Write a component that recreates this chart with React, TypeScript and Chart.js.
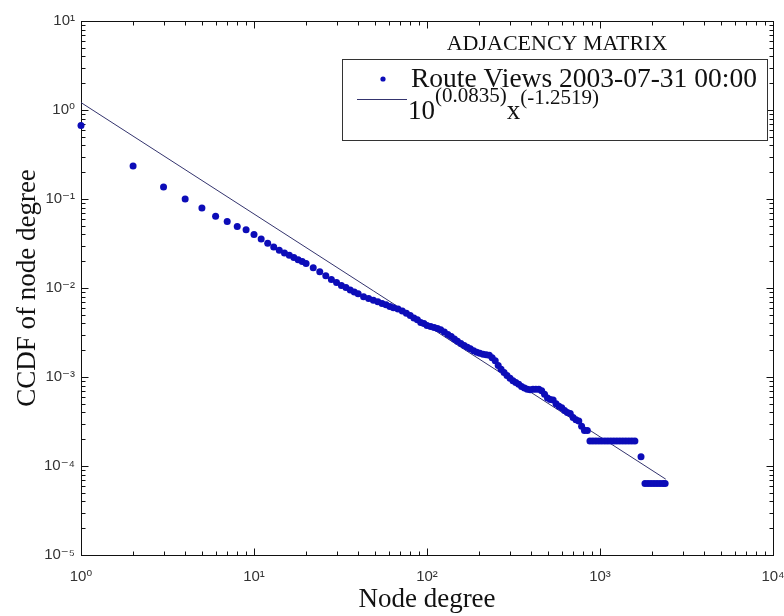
import React, { useEffect, useRef } from 'react';
import { Chart, registerables } from 'chart.js';

Chart.register(...registerables);

// ---- data ----
const degree = [
  1, 2, 3, 4, 5, 6, 7, 8, 9, 10,
  11, 12, 13, 14, 15, 16, 17, 18, 19, 20,
  22, 24, 26, 28, 30, 32, 34, 36, 38, 40,
  43, 46, 49, 52, 55, 58, 61, 64, 68, 72,
  76, 80, 84, 88, 92, 96, 100, 105, 110, 115,
  120, 126, 132, 138, 144, 150, 157, 164, 171, 178,
  186, 194, 202, 211, 220, 229, 238, 248, 258, 268,
  279, 290, 302, 314, 326, 339, 352, 366, 380, 395,
  410, 426, 443, 460, 478, 497, 516, 536, 557, 579,
  601, 624, 648, 673, 699, 726, 754, 783, 813, 845,
  875, 910, 947, 986, 1026, 1068, 1111, 1156, 1203, 1252,
  1303, 1356, 1411, 1469, 1529, 1591,
  1726,
  1820, 1894, 1971, 2051, 2135, 2222, 2312, 2380,
];

const ccdf = [
  0.67, 0.235, 0.136, 0.1, 0.079, 0.064, 0.056, 0.049, 0.045, 0.04,
  0.0355, 0.0318, 0.0288, 0.0265, 0.0248, 0.0233, 0.022, 0.0208, 0.0198, 0.0188,
  0.0169, 0.0152, 0.0137, 0.0125, 0.0115, 0.0107, 0.0101, 0.0095, 0.009, 0.0086,
  0.008, 0.0076, 0.0073, 0.007, 0.0067, 0.0065, 0.0062, 0.006, 0.0058, 0.0055,
  0.0052, 0.0049, 0.0046, 0.0044, 0.0041, 0.004, 0.0038, 0.0037, 0.0036, 0.0035,
  0.0034, 0.0032, 0.003, 0.00285, 0.00268, 0.00252, 0.00238, 0.00226, 0.00216, 0.00208,
  0.00197, 0.0019, 0.00185, 0.0018, 0.00178, 0.00175, 0.00165, 0.00152, 0.00135, 0.00122,
  0.00112, 0.00104, 0.00097, 0.00091, 0.00087, 0.00083, 0.00078, 0.00075, 0.00073, 0.00072,
  0.00073, 0.00073, 0.00073, 0.0007, 0.00064, 0.00058, 0.00056, 0.00055, 0.0005, 0.00047,
  0.00045, 0.00042, 0.0004, 0.00039, 0.00035, 0.00033, 0.00032, 0.00028, 0.00025, 0.00025,
  0.000191, 0.000191, 0.000191, 0.000191, 0.000191, 0.000191, 0.000191, 0.000191, 0.000191, 0.000191,
  0.000191, 0.000191, 0.000191, 0.000191, 0.000191, 0.000191,
  0.000127,
  0.0000637, 0.0000637, 0.0000637, 0.0000637, 0.0000637, 0.0000637, 0.0000637, 0.0000637,
];

// fitted power law end points: 10^(0.0835) x^(-1.2519)
const fitDegree = [1, 2400];
const fitCcdf = [1.212, 0.0000711];

const xTickValues = [1, 10, 100, 1000, 10000];
const xTickLabels = ['10⁰', '10¹', '10²', '10³', '10⁴'];
const yTickValues = [0.00001, 0.0001, 0.001, 0.01, 0.1, 1, 10];
const yTickLabels = ['10⁻⁵', '10⁻⁴', '10⁻³', '10⁻²', '10⁻¹', '10⁰', '10¹'];

const xTitle = 'Node degree';
const yTitle = 'CCDF of node degree';
const legendTitle = 'ADJACENCY MATRIX';
const seriesLabel = 'Route Views 2003-07-31 00:00';
const fitBase = '10';
const fitExpA = '(0.0835)';
const fitVar = 'x';
const fitExpB = '(-1.2519)';

const POINT_COLOR = '#0c0cb8';
const LINE_COLOR = '#34346e';
const SERIF = '"Liberation Serif", "Times New Roman", serif';
const SANS = '"Liberation Sans", Arial, "DejaVu Sans", sans-serif';

const framePlugin = {
  id: 'matlabFrame',
  beforeDatasetsDraw(chart: any) {
    const { ctx, chartArea: a, scales } = chart;
    const x = scales.x;
    const y = scales.y;
    const L = Math.round(a.left) + 0.5;
    const R = Math.round(a.right) + 0.5;
    const T = Math.round(a.top) + 0.5;
    const B = Math.round(a.bottom) + 0.5;
    ctx.save();
    ctx.fillStyle = '#ffffff';
    ctx.fillRect(a.left, a.top, a.right - a.left, a.bottom - a.top);
    ctx.strokeStyle = '#111111';
    ctx.lineWidth = 1;
    ctx.strokeRect(L, T, R - L, B - T);
    ctx.beginPath();
    for (let d = 0; d < 4; d++) {
      for (let m = 1; m <= 9; m++) {
        const v = m * Math.pow(10, d);
        const px = Math.round(x.getPixelForValue(v)) + 0.5;
        const len = m === 1 ? 7 : 4;
        ctx.moveTo(px, B);
        ctx.lineTo(px, B - len);
        ctx.moveTo(px, T);
        ctx.lineTo(px, T + len);
      }
    }
    for (let d = -5; d < 1; d++) {
      for (let m = 1; m <= 9; m++) {
        const v = m * Math.pow(10, d);
        const py = Math.round(y.getPixelForValue(v)) + 0.5;
        const len = m === 1 ? 7 : 4;
        ctx.moveTo(L, py);
        ctx.lineTo(L + len, py);
        ctx.moveTo(R, py);
        ctx.lineTo(R - len, py);
      }
    }
    ctx.stroke();
    ctx.restore();
  },
};

const legendPlugin = {
  id: 'matlabLegend',
  afterDraw(chart: any) {
    const ctx = chart.ctx;
    ctx.save();
    ctx.textBaseline = 'alphabetic';
    ctx.textAlign = 'center';
    ctx.fillStyle = '#111111';
    ctx.font = `22px ${SERIF}`;
    ctx.fillText(legendTitle, 557, 50);

    ctx.fillStyle = '#ffffff';
    ctx.fillRect(343, 60, 424, 80);
    ctx.strokeStyle = '#333333';
    ctx.lineWidth = 1;
    ctx.strokeRect(342.5, 59.5, 425, 81);

    ctx.fillStyle = POINT_COLOR;
    ctx.beginPath();
    ctx.arc(383, 79, 2.6, 0, Math.PI * 2);
    ctx.fill();

    ctx.textAlign = 'left';
    ctx.fillStyle = '#111111';
    ctx.font = `27.5px ${SERIF}`;
    ctx.fillText(seriesLabel, 411, 87);

    ctx.strokeStyle = LINE_COLOR;
    ctx.beginPath();
    ctx.moveTo(357, 99.5);
    ctx.lineTo(407, 99.5);
    ctx.stroke();

    let cx = 408;
    ctx.font = `27px ${SERIF}`;
    ctx.fillText(fitBase, cx, 119);
    cx += ctx.measureText(fitBase).width;
    ctx.font = `21px ${SERIF}`;
    ctx.fillText(fitExpA, cx, 102);
    cx += ctx.measureText(fitExpA).width;
    ctx.font = `27px ${SERIF}`;
    ctx.fillText(fitVar, cx, 119);
    cx += ctx.measureText(fitVar).width;
    ctx.font = `21px ${SERIF}`;
    ctx.fillText(fitExpB, cx, 104);
    ctx.restore();
  },
};

export default function App() {
  const ref = useRef<HTMLCanvasElement | null>(null);

  useEffect(() => {
    if (!ref.current) return;
    const chart = new Chart(ref.current, {
      type: 'scatter',
      data: {
        datasets: [
          {
            label: seriesLabel,
            data: degree.map((d, i) => ({ x: d, y: ccdf[i] })),
            showLine: false,
            pointRadius: 3.5,
            pointStyle: 'circle',
            pointBackgroundColor: POINT_COLOR,
            pointBorderWidth: 0,
            borderColor: POINT_COLOR,
            clip: false,
          } as any,
          {
            label: 'fit',
            data: fitDegree.map((d, i) => ({ x: d, y: fitCcdf[i] })),
            showLine: true,
            pointRadius: 0,
            borderColor: LINE_COLOR,
            borderWidth: 1,
            fill: false,
          } as any,
        ],
      },
      options: {
        responsive: false,
        animation: false,
        devicePixelRatio: 1,
        layout: { padding: { top: 21, right: 11, left: 0, bottom: 0 } },
        plugins: {
          legend: { display: false },
          tooltip: { enabled: false },
        },
        scales: {
          x: {
            type: 'logarithmic',
            position: 'bottom',
            min: 1,
            max: 10000,
            grid: { display: false, drawTicks: false },
            border: { display: false },
            afterBuildTicks: (s: any) => {
              s.ticks = xTickValues.map((v) => ({ value: v }));
            },
            afterFit: (s: any) => {
              s.height = 61;
              s.paddingLeft = 0;
              s.paddingRight = 0;
            },
            ticks: {
              autoSkip: false,
              maxRotation: 0,
              padding: 13,
              color: '#333333',
              font: { family: SANS, size: 15 },
              callback: (v: any) => {
                const i = xTickValues.indexOf(Number(v));
                return i >= 0 ? xTickLabels[i] : '';
              },
            },
            title: {
              display: true,
              text: xTitle,
              color: '#111111',
              font: { family: SERIF, size: 27 },
              padding: { top: 0, bottom: 0 },
            },
          },
          y: {
            type: 'logarithmic',
            position: 'left',
            min: 0.00001,
            max: 10,
            grid: { display: false, drawTicks: false },
            border: { display: false },
            afterBuildTicks: (s: any) => {
              s.ticks = yTickValues.map((v) => ({ value: v }));
            },
            afterFit: (s: any) => {
              s.width = 81;
              s.paddingTop = 0;
              s.paddingBottom = 0;
            },
            ticks: {
              autoSkip: false,
              padding: 6,
              color: '#333333',
              font: { family: SANS, size: 15 },
              callback: (v: any) => {
                const i = yTickValues.indexOf(Number(v));
                return i >= 0 ? yTickLabels[i] : '';
              },
            },
            title: {
              display: true,
              text: yTitle,
              color: '#111111',
              font: { family: SERIF, size: 27 },
              padding: { top: 12, bottom: 0 },
            },
          },
        },
      } as any,
      plugins: [framePlugin, legendPlugin],
    });
    return () => chart.destroy();
  }, []);

  return (
    <div style={{ position: 'absolute', left: 0, top: 0, width: 784, height: 616, background: '#ffffff' }}>
      <canvas ref={ref} width={784} height={616} style={{ display: 'block' }} />
    </div>
  );
}
